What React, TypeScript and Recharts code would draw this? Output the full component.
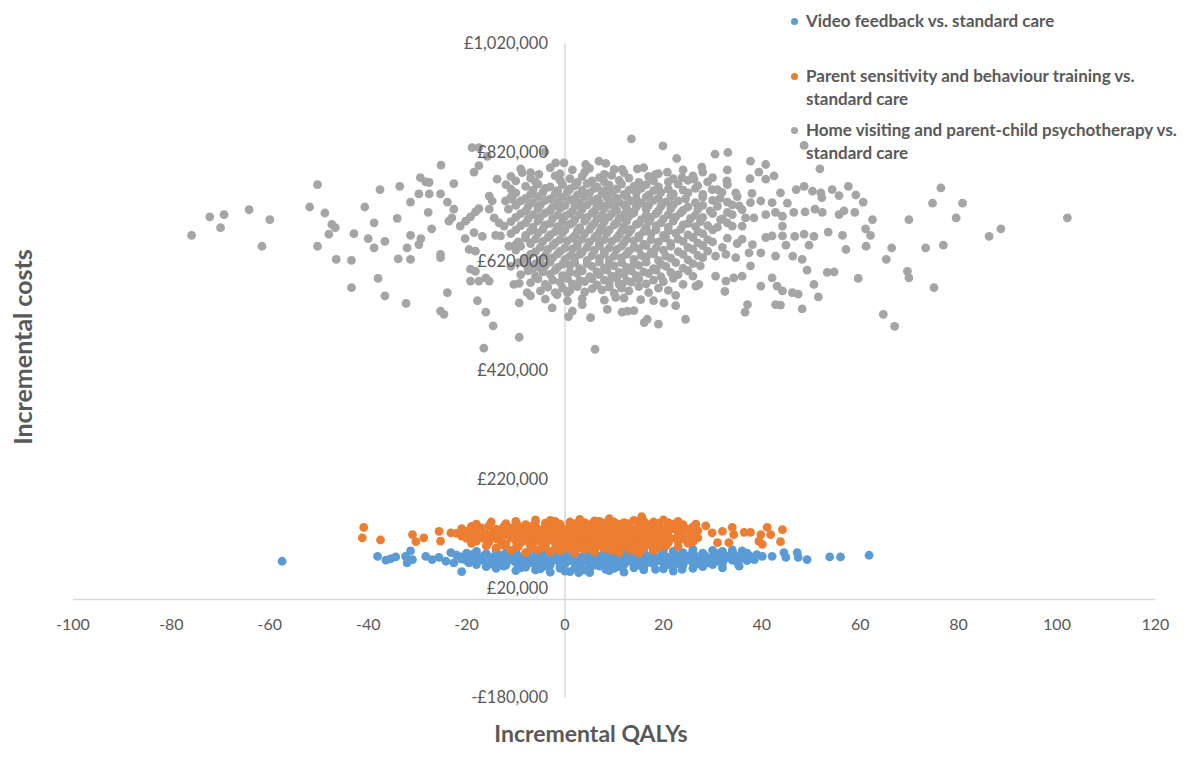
import React from 'react';
import { ScatterChart, Scatter, XAxis, YAxis, ReferenceLine, ReferenceDot } from 'recharts';

// [incremental QALYs, incremental cost in £ thousands]
const videoFeedback: [number, number][] = [
  [-57.5, 70], [-38.1, 79], [-36.4, 72], [-35.4, 75], [-34.4, 78], [-32.4, 79], [-32.1, 67], [-31.4, 89], [-31.0, 73],
  [-28.3, 79], [-27.0, 73], [-25.6, 77], [-24.2, 70], [-23.2, 86], [-22.6, 67], [40.1, 79], [42.1, 79], [44.5, 86],
  [44.9, 77], [47.2, 86], [47.4, 77], [49.2, 73], [53.8, 78], [56.0, 78], [61.8, 81], [35.4, 61], [32.0, 58],
  [23.8, 55], [18.4, 55], [8.3, 55], [2.8, 49],
  [-10, 92], [-4, 93], [2, 91], [8, 92], [14, 93], [20, 91], [26, 92], [30, 90], [34, 91],
  [-18, 88], [-14, 89], [-10, 87], [-6, 89], [-2, 88], [2, 87], [6, 89], [10, 88], [14, 87], [18, 89], [22, 88],
  [26, 87], [32, 88], [36, 89],
  [-20, 85], [-16, 84], [-12, 86], [-8, 85], [-4, 84], [0, 86], [4, 85], [8, 84], [12, 86], [16, 85], [20, 84],
  [24, 86], [28, 85], [31, 84], [34, 86], [37, 85],
  [-22, 81], [-19, 82], [-16.5, 80], [-13.5, 82], [-10.5, 81], [-7.5, 80], [-4.5, 82], [-1.5, 81], [1.5, 80],
  [4.5, 82], [7.5, 81], [10.5, 80], [13.5, 82], [16.5, 81], [19.5, 80], [22.5, 82], [25.5, 81], [28.5, 80],
  [31.5, 82], [34.5, 81], [37.5, 80], [39, 82],
  [-21, 78], [-18, 79], [-15, 77], [-12, 79], [-9, 78], [-6, 77], [-3, 79], [0, 78], [3, 77], [6, 79], [9, 78],
  [12, 77], [15, 79], [18, 78], [21, 77], [24, 79], [27, 78], [30, 77], [33, 79], [36, 78], [38, 77],
  [-21, 74], [-18.5, 75], [-15.5, 73], [-12.5, 75], [-9.5, 74], [-6.5, 73], [-3.5, 75], [-0.5, 74], [2.5, 73],
  [5.5, 75], [8.5, 74], [11.5, 73], [14.5, 75], [17.5, 74], [20.5, 73], [23.5, 75], [26.5, 74], [29.5, 73],
  [32.5, 75], [35.5, 74], [38.5, 73],
  [-20, 71], [-17, 72], [-14, 70], [-11, 72], [-8, 71], [-5, 70], [-2, 72], [1, 71], [4, 70], [7, 72], [10, 71],
  [13, 70], [16, 72], [19, 71], [22, 70], [25, 72], [28, 71], [31, 70], [34, 72], [37, 71],
  [-19.5, 67], [-16, 68], [-13, 66], [-10, 68], [-7, 67], [-4, 66], [-1, 68], [2, 67], [5, 66], [8, 68], [11, 67],
  [14, 66], [17, 68], [20, 67], [23, 66], [26, 68], [29, 67], [32, 66], [35, 68],
  [-18, 64], [-15, 65], [-12, 63], [-9, 65], [-6, 64], [-3, 63], [0, 65], [3, 64], [6, 63], [9, 65], [12, 64],
  [15, 63], [18, 65], [21, 64], [24, 63], [27, 65], [30, 64],
  [-16, 60], [-12.5, 61], [-8, 59], [-4, 61], [-1, 60], [3, 59], [7, 61], [11, 60], [16, 59], [22, 61], [28, 60],
  [-14, 57], [-9, 58], [-5, 56], [-1, 57], [2, 58], [5, 56], [10, 57], [14, 58], [20, 56], [26, 57],
  [-10, 53], [-6, 54], [0, 52], [4, 54], [9, 53], [16, 54], [22, 52],
  [-3, 50], [1, 51], [5, 49], [12, 50], [-21, 51],
];

const parentTraining: [number, number][] = [
  [-40.9, 132], [-41.2, 113], [-37.5, 109], [-31.0, 119], [-30.3, 106], [-28.7, 113], [-25.6, 125], [-23.2, 122],
  [-25.3, 107], [26.6, 138], [28.6, 135], [29.9, 122], [32.0, 125], [34.0, 132], [34.3, 119], [36.4, 123],
  [37.7, 123], [39.8, 119], [41.1, 132], [41.8, 119], [44.2, 128], [39.4, 107], [40.1, 101], [43.8, 106],
  [31.0, 104], [33.3, 104],
  [15.6, 152], [3, 147], [-6, 146], [20, 146], [9, 148], [-3, 145], [6, 144], [14, 145], [16, 144],
  [-15, 142], [-10, 143], [-6, 141], [-2, 143], [1, 142], [4, 141], [7, 143], [10, 142], [12, 141], [15, 143],
  [18, 142], [21, 141], [23, 143],
  [-18, 138], [-12, 139], [-8, 137], [-4, 140], [-1, 138], [2, 139], [5, 137], [8, 140], [11, 138], [13, 139],
  [17, 137], [19, 140], [22, 138], [24, 137],
  [-19, 134], [-15.5, 135], [-12.5, 133], [-9.5, 135], [-7, 134], [-4, 133], [-2, 135], [1, 134], [3.5, 133],
  [6, 135], [8.5, 134], [11, 133], [13, 135], [16, 134], [18.5, 133], [21, 135], [23.5, 134], [26, 133],
  [-21, 130], [-17, 131], [-14, 129], [-11, 131], [-8, 130], [-5.5, 129], [-3, 131], [-0.5, 130], [2, 129],
  [4.5, 131], [7, 130], [9.5, 129], [12, 131], [14.5, 130], [17, 129], [19.5, 131], [22, 130], [25, 129],
  [-20, 125], [-17.5, 126], [-14.5, 124], [-11.5, 126], [-9, 125], [-6.5, 124], [-4, 126], [-1.5, 125], [1, 124],
  [3.5, 126], [6, 125], [8.5, 124], [11, 126], [13.5, 125], [16, 124], [18.5, 126], [21, 125], [24, 124], [27, 126],
  [-22, 121], [-19, 122], [-16, 120], [-13, 122], [-10, 121], [-7.5, 120], [-5, 122], [-2.5, 121], [0, 120],
  [2.5, 122], [5, 121], [7.5, 120], [10, 122], [12.5, 121], [15, 120], [17.5, 122], [20, 121], [23, 120], [26, 122],
  [-21, 116], [-18.5, 117], [-15.5, 115], [-12.5, 117], [-9.5, 116], [-7, 115], [-4.5, 117], [-2, 116], [0.5, 115],
  [3, 117], [5.5, 116], [8, 115], [10.5, 117], [13, 116], [15.5, 115], [18, 117], [20.5, 116], [23, 115], [25.5, 117],
  [-20, 112], [-17, 113], [-14, 111], [-11, 113], [-8.5, 112], [-6, 111], [-3.5, 113], [-1, 112], [1.5, 111],
  [4, 113], [6.5, 112], [9, 111], [11.5, 113], [14, 112], [16.5, 111], [19, 113], [21.5, 112], [24, 111], [27, 113],
  [-18, 107], [-16, 108], [-13, 106], [-10, 108], [-7.5, 107], [-5, 106], [-2.5, 108], [0, 107], [2.5, 106],
  [5, 108], [7.5, 107], [10, 106], [12.5, 108], [15, 107], [17.5, 106], [20, 108], [23, 107], [26, 106],
  [-19, 103], [-15.5, 104], [-12, 102], [-9, 104], [-6.5, 103], [-4, 102], [-1.5, 104], [1, 103], [3.5, 102],
  [6, 104], [8.5, 103], [11, 102], [13.5, 104], [16, 103], [18.5, 102], [21, 104], [25, 103],
  [-16, 98], [-12.5, 99], [-9.5, 97], [-7, 99], [-4, 98], [-1, 97], [1.5, 99], [4, 98], [6.5, 97], [9, 99],
  [12, 98], [14.5, 97], [17.5, 99], [20.5, 98], [23, 97],
  [-14, 94], [-10, 95], [-7, 93], [-4.5, 95], [-2, 94], [0.5, 93], [3, 95], [5.5, 94], [8, 93], [10.5, 95],
  [13, 94], [16, 93], [19, 95],
  [-11, 90], [-5.5, 91], [-1, 89], [4, 91], [9.5, 90], [13.5, 89], [18, 90],
  [-8, 86], [-3, 87], [2, 85], [6, 87], [11, 86], [15, 85],
];

const homeVisiting: [number, number][] = [
  // tails
  [-75.9, 668], [-72.2, 702], [-69.3, 706], [-70.0, 682], [-64.2, 715], [-60.0, 697], [-61.6, 648], [-50.3, 761],
  [-51.9, 720], [-48.8, 709], [-47.4, 688], [-46.7, 682], [-48.0, 670], [-50.3, 648], [-46.5, 624], [-43.4, 622],
  [-43.4, 572], [-42.9, 671], [-40.7, 720], [-40.0, 662], [-38.8, 691], [-38.8, 645], [-38.0, 589], [-37.6, 752],
  [-33.6, 758], [-25.2, 797], [-29.4, 774], [-28.3, 766], [-27.6, 765], [-22.6, 763], [-31.4, 729], [-29.7, 744],
  [-27.6, 744], [-25.3, 744], [-23.9, 729], [-22.6, 716], [-27.8, 710], [-34.1, 699], [-23.6, 694], [-23.0, 700],
  [-27.1, 680], [-31.4, 668], [-29.3, 662], [-29.7, 651], [-36.6, 657], [-32.1, 645], [-33.9, 625], [-31.4, 624],
  [-25.3, 633], [-25.3, 627], [-36.6, 557], [-32.3, 543], [-23.9, 563], [-25.3, 529], [-24.6, 523], [-17.8, 548],
  [-16.1, 527], [-14.6, 502], [-9.3, 481], [-16.5, 461], [-21.3, 685], [-20.2, 694], [-19.2, 702], [-18.2, 711],
  [-17.5, 717], [-20.3, 662], [-18.5, 673], [-16.8, 666], [-15.4, 740], [-14.8, 731], [-15.4, 716], [-13.8, 771],
  [-17.5, 796], [-18.5, 784], [-15.8, 813], [-18.9, 829], [-17.5, 829], [-4.1, 821], [-8.7, 783], [-5.3, 780],
  [-1.9, 801], [-0.2, 801], [-12.1, 731], [-10.7, 734], [-14.4, 700], [-13.4, 691], [-12.4, 685], [-14.1, 668],
  [-13.1, 667], [-19.5, 642], [-18.2, 639], [-19.2, 606], [-18.2, 602], [-19.2, 584], [-17.5, 584], [-16.1, 590],
  [-15.4, 584], [-11.4, 648], [-10.0, 651], [-10.4, 578], [-9.3, 580], [-9.3, 544], [-7.7, 563], [-7.0, 557],
  [-2.6, 535], [-1.6, 559], [0.5, 563], [0.7, 519], [1.5, 529], [-8.0, 615], [-6.6, 606], [-5.3, 609],
  [13.5, 845], [19.9, 832], [22.7, 809], [30.5, 817], [33.1, 820], [37.7, 804], [40.8, 798], [39.4, 784],
  [27.8, 793], [33.0, 788], [32.9, 768], [37.6, 772], [40.8, 771], [42.5, 777], [6.9, 804], [8.3, 800],
  [11.6, 789], [14.7, 790], [18.4, 780], [20.8, 784], [23.8, 774], [26.2, 771], [4.2, 798], [29.9, 752],
  [31.9, 747], [34.7, 746], [35.4, 722], [37.7, 728], [39.8, 731], [42.1, 728], [36.7, 700], [38.4, 700],
  [40.8, 706], [42.8, 710], [33.0, 710], [31.6, 697], [34.0, 685], [36.0, 685], [40.8, 664], [42.1, 667],
  [36.0, 661], [38.1, 651], [30.6, 630], [32.7, 633], [34.7, 627], [37.4, 636], [39.8, 636], [42.8, 630],
  [30.6, 593], [32.7, 584], [34.3, 590], [36.0, 593], [37.7, 612], [39.8, 575], [42.1, 590], [43.1, 575],
  [42.8, 541], [37.1, 541], [36.6, 527], [32.5, 565], [27.2, 578], [26.6, 575], [11.6, 578], [5.2, 517],
  [8.6, 532], [11.6, 527], [12.7, 529], [14.0, 530], [16.1, 508], [16.7, 514], [19.0, 505], [24.5, 514],
  [22.5, 558], [22.5, 539], [20.1, 544], [6.1, 459], [10.3, 554], [15.4, 550], [3.5, 541],
  [48.6, 833], [51.8, 790], [76.4, 755], [74.7, 727], [80.8, 727], [79.5, 700], [69.9, 697], [102.1, 700],
  [88.6, 680], [86.2, 666], [73.3, 645], [76.9, 650], [66.4, 645], [65.3, 624], [69.6, 602], [69.9, 590],
  [75.0, 572], [64.7, 523], [67.0, 501], [62.5, 697], [61.1, 680], [62.1, 668], [61.2, 648], [59.6, 589],
  [57.1, 642], [56.4, 668], [53.5, 674], [57.6, 758], [59.1, 742], [60.6, 729], [55.7, 741], [54.3, 752],
  [50.3, 749], [52.0, 746], [52.2, 737], [47.0, 752], [48.6, 758], [43.8, 746], [45.2, 727], [46.5, 710],
  [48.8, 711], [50.8, 716], [52.3, 710], [55.7, 706], [56.7, 713], [58.9, 710], [44.2, 703], [44.2, 685],
  [44.2, 667], [46.7, 666], [48.6, 670], [50.6, 666], [44.9, 650], [49.6, 650], [46.3, 630], [48.2, 624],
  [49.2, 604], [53.3, 600], [54.7, 601], [50.6, 578], [44.2, 566], [46.2, 563], [47.4, 560], [51.5, 555],
  [43.8, 540], [48.2, 533],
  // core
  [-9, 790], [-3, 792], [1.5, 788], [5, 791], [10, 789], [16, 792], [24, 788],
  [-7, 783], [-1, 781], [4, 784], [8, 780], [12, 783], [19, 781], [28, 784],
  [-11, 776], [-7, 773], [-2, 777], [1, 772], [3.5, 776], [7, 774], [9.5, 778], [13, 773], [17, 776], [22, 772],
  [26, 777], [30, 774],
  [-10, 768], [-6, 766], [-1, 769], [2.5, 765], [5.5, 768], [8, 766], [11, 769], [15, 765], [18, 768], [21, 766],
  [25, 769], [29, 766],
  [-12, 761], [-8, 758], [-5.5, 762], [-3, 757], [-0.5, 761], [2, 759], [4.5, 763], [6.5, 757], [9, 760],
  [11.5, 762], [14, 758], [16.5, 761], [19, 757], [23, 762], [27, 759], [33, 761],
  [-11, 753], [-6.5, 751], [-4, 754], [-1.5, 750], [1, 753], [3.5, 751], [6, 754], [8, 750], [10.5, 753],
  [13, 751], [15.5, 754], [18, 750], [21, 753], [24, 751], [26.5, 754], [31, 752],
  [-10, 746], [-7, 743], [-4.5, 747], [-2, 744], [0.5, 748], [2.5, 742], [5, 746], [7.5, 744], [9.5, 747],
  [12, 743], [14.5, 746], [17, 742], [19.5, 747], [22, 744], [25, 746], [28, 743], [38, 745],
  [-11, 738], [-8, 736], [-5.5, 739], [-3, 735], [-0.5, 738], [2, 736], [4, 739], [6.5, 735], [8.5, 738],
  [10.5, 736], [12.5, 739], [14.5, 735], [16.5, 738], [19, 736], [21.5, 739], [24.5, 735], [28, 738], [31.5, 736], [35, 739],
  [-9, 731], [-6.5, 728], [-4, 732], [-1.5, 729], [1, 733], [3, 727], [5.5, 731], [7, 728], [9, 732], [11, 729],
  [13.5, 731], [15.5, 727], [18, 732], [20.5, 729], [23, 731], [26.5, 728], [30, 732], [33, 729],
  [-10, 723], [-7.5, 721], [-5, 724], [-2.5, 720], [0, 723], [2, 721], [4.5, 724], [6.5, 720], [8.5, 723],
  [10, 721], [12, 724], [14.5, 720], [17, 723], [19.5, 721], [22, 724], [25, 720], [28, 723], [31, 721], [34, 724],
  [-11.5, 716], [-8, 713], [-5.5, 717], [-3, 714], [-1, 718], [1.5, 712], [3.5, 716], [6, 713], [8, 717],
  [10.5, 714], [12.5, 718], [14, 712], [16.5, 716], [19, 713], [21.5, 717], [24, 714], [27, 716], [29.5, 713], [36, 715],
  [-9, 708], [-6.5, 706], [-4, 709], [-1.5, 705], [1, 708], [3, 706], [5.5, 709], [7.5, 705], [9.5, 708],
  [12, 706], [14, 709], [16.5, 705], [18.5, 708], [21, 706], [23.5, 709], [26.5, 705], [30, 708], [34, 706],
  [-10, 701], [-7.5, 698], [-5, 702], [-2.5, 699], [0, 703], [2, 697], [4.5, 701], [6.5, 698], [9, 702], [11, 699],
  [13, 703], [15.5, 697], [17.5, 701], [20, 698], [22.5, 702], [25.5, 699], [28, 701], [32, 698],
  [-11, 693], [-8, 691], [-5.5, 694], [-3, 690], [-0.5, 693], [1.5, 691], [4, 694], [6, 690], [8, 693],
  [10.5, 691], [12.5, 694], [15, 690], [17, 693], [19.5, 691], [22, 694], [25, 690], [27.5, 693], [33, 691],
  [-9, 686], [-6.5, 683], [-4, 687], [-1.5, 684], [1, 688], [3, 682], [5.5, 686], [7.5, 683], [10, 687], [12, 684],
  [14.5, 688], [16.5, 682], [18.5, 686], [21, 683], [24, 687], [26.5, 684], [29, 686], [31, 683],
  [-10, 678], [-7, 676], [-4.5, 679], [-2, 675], [0, 678], [2.5, 676], [5, 679], [7, 675], [9, 678],
  [11.5, 676], [13.5, 679], [16, 675], [18.5, 678], [21, 676], [23.5, 679], [27, 675], [30, 678],
  [-11, 671], [-8, 668], [-5.5, 672], [-3, 669], [-0.5, 673], [2, 667], [4, 671], [6.5, 668], [8.5, 672], [11, 669],
  [13, 673], [15, 667], [17.5, 671], [20, 668], [22.5, 672], [25, 669], [28, 671],
  [-8, 663], [-6, 661], [-3.5, 664], [-1, 660], [1.5, 663], [3.5, 661], [6, 664], [8, 660], [10.5, 663],
  [12.5, 661], [15, 664], [17.5, 660], [20.5, 663], [23, 661], [26, 664], [29, 660], [33, 663],
  [-9.5, 656], [-7, 653], [-4.5, 657], [-2, 654], [0.5, 658], [2.5, 652], [5, 656], [7, 653], [9.5, 657], [12, 654],
  [14, 658], [16, 652], [19, 656], [21.5, 653], [24, 657], [27, 654], [30, 656], [35, 653],
  [-9, 648], [-5, 646], [-2.5, 649], [0, 645], [2.5, 648], [4.5, 646], [7, 649], [9, 645], [11.5, 648],
  [14, 646], [16.5, 649], [18.5, 645], [21.5, 648], [25, 646], [28, 649], [32, 646],
  [-10, 641], [-6, 638], [-3.5, 642], [-1, 639], [1.5, 643], [3.5, 637], [6, 641], [8, 638], [10.5, 642], [13, 639],
  [15, 643], [17.5, 637], [20, 641], [23, 638], [26, 642], [29, 639],
  [-7, 633], [-4, 631], [-1.5, 634], [1, 630], [3, 633], [5.5, 631], [8, 634], [10, 630], [12.5, 633],
  [15.5, 631], [18, 634], [20.5, 630], [24, 633], [27, 631],
  [-8, 626], [-5, 623], [-2.5, 627], [0, 624], [2, 628], [4.5, 622], [7, 626], [9, 623], [11.5, 627], [14, 624],
  [16.5, 628], [19, 622], [21.5, 626], [25, 623], [28, 627],
  [-9.5, 618], [-6, 616], [-3, 619], [-0.5, 615], [2, 618], [4.5, 616], [7, 619], [9, 615], [11.5, 618],
  [14, 616], [16.5, 619], [19.5, 615], [22.5, 618], [26, 616],
  [-11, 611], [-7.5, 608], [-4, 612], [-1.5, 609], [1, 613], [3, 607], [5.5, 611], [8, 608], [10, 612], [12.5, 609],
  [15, 613], [18, 607], [20.5, 611], [24, 608], [27.5, 612],
  [-7.5, 603], [-4.5, 601], [-2, 604], [1, 600], [3.5, 603], [6.5, 601], [8.5, 604], [11, 600], [13.5, 603],
  [16, 601], [18.5, 604], [21.5, 600], [25, 603],
  [-9, 596], [-6, 593], [-3, 597], [-0.5, 594], [2.5, 598], [5, 592], [7, 596], [9.5, 593], [12, 597], [14.5, 594],
  [17, 598], [19.5, 592], [23, 596], [26, 593],
  [-5.5, 588], [-2.5, 586], [0.5, 589], [3, 585], [5.5, 588], [8, 586], [10.5, 589], [12.5, 585], [15, 588],
  [18, 586], [22, 589],
  [-7, 581], [-4, 578], [-1, 582], [1.5, 579], [4, 583], [6.5, 577], [9, 581], [11, 578], [13.5, 582], [16.5, 579],
  [20, 583], [24, 578],
  [-3.5, 573], [-0.5, 571], [2.5, 574], [5.5, 570], [9, 573], [11.5, 571], [15, 574], [19, 571],
  [-5, 566], [-2, 563], [1, 567], [4, 564], [7.5, 568], [10, 562], [13, 566], [17, 563], [21, 567],
  [-4, 551], [0.5, 548], [3.5, 552], [8, 549], [12, 553], [18, 548],
];

const xTicks = [-100, -80, -60, -40, -20, 0, 20, 40, 60, 80, 100, 120];
const yTicks = [-180000, 20000, 220000, 420000, 620000, 820000, 1020000];

const seriesNames = [
  'Video feedback vs. standard care',
  'Parent sensitivity and behaviour training vs.\nstandard care',
  'Home visiting and parent-child psychotherapy vs.\nstandard care',
];
const seriesColors = ['#5B9BD5', '#ED7D31', '#A5A5A5'];

const toPoints = (rows: [number, number][]) => rows.map(([x, y]) => ({ x, y: y * 1000 }));

const money = (v: number) => (v < 0 ? '-' : '') + '£' + Math.abs(v).toLocaleString('en-GB');

const FONT = 'Lato, "Liberation Sans", sans-serif';
const TEXT = '#595959';

const dot = (color: string) => (props: any) => <circle cx={props.cx} cy={props.cy} r={4.4} fill={color} />;

export default function App() {
  const series = [videoFeedback, parentTraining, homeVisiting];
  const legendTops = [10, 65, 119];

  // the frame covers the whole page, body margin included
  return (
    <div style={{ position: 'relative', width: 1198, height: 758, margin: '-8px 0 -8px -8px', overflow: 'hidden', fontFamily: FONT }}>
      <ScatterChart width={1198} height={758} margin={{ top: 43.5, right: 42.6, bottom: 60.5, left: 73 }}>
        <XAxis type="number" dataKey="x" domain={[-100, 120]} ticks={xTicks} hide />
        <YAxis type="number" dataKey="y" domain={[-180000, 1020000]} ticks={yTicks} hide />
        <ReferenceLine x={0} stroke="#D9D9D9" strokeWidth={1.5} />
        <ReferenceLine y={0} stroke="#D9D9D9" strokeWidth={1.5} />
        {series.map((rows, i) => (
          <Scatter
            key={seriesNames[i]}
            name={seriesNames[i]}
            data={toPoints(rows)}
            fill={seriesColors[i]}
            shape={dot(seriesColors[i])}
            isAnimationActive={false}
          />
        ))}
        {xTicks.map((t) => (
          <ReferenceDot
            key={'x' + t}
            x={t}
            y={0}
            r={0}
            fill="none"
            stroke="none"
            label={{ value: String(t), position: 'bottom', offset: 19, fill: TEXT, fontSize: 16, fontFamily: FONT }}
          />
        ))}
        {yTicks.map((t) => (
          <ReferenceDot
            key={'y' + t}
            x={0}
            y={t}
            r={0}
            fill="none"
            stroke="none"
            label={{ value: money(t), position: 'left', offset: 17, fill: TEXT, fontSize: 16.5, fontFamily: FONT }}
          />
        ))}
      </ScatterChart>

      <div style={{ position: 'absolute', left: 791, top: 0 }}>
        {seriesNames.map((name, i) => (
          <div key={name} style={{ position: 'absolute', top: legendTops[i], left: 0, display: 'flex', alignItems: 'flex-start' }}>
            <span
              style={{
                display: 'inline-block', width: 7, height: 7, borderRadius: '50%', background: seriesColors[i],
                marginTop: 8, marginRight: 8, flex: 'none',
              }}
            />
            <span style={{ whiteSpace: 'pre', fontSize: 17, fontWeight: 700, lineHeight: '22.5px', color: TEXT }}>{name}</span>
          </div>
        ))}
      </div>

      <div
        style={{
          position: 'absolute', left: 591, top: 722, transform: 'translateX(-50%)', whiteSpace: 'nowrap',
          fontSize: 23, fontWeight: 700, lineHeight: '23px', color: TEXT,
        }}
      >
        Incremental QALYs
      </div>
      <div
        style={{
          position: 'absolute', left: 22, top: 346.5, transform: 'translate(-50%, -50%) rotate(-90deg)', whiteSpace: 'nowrap',
          fontSize: 25, fontWeight: 700, lineHeight: '28px', color: TEXT,
        }}
      >
        Incremental costs
      </div>
    </div>
  );
}
